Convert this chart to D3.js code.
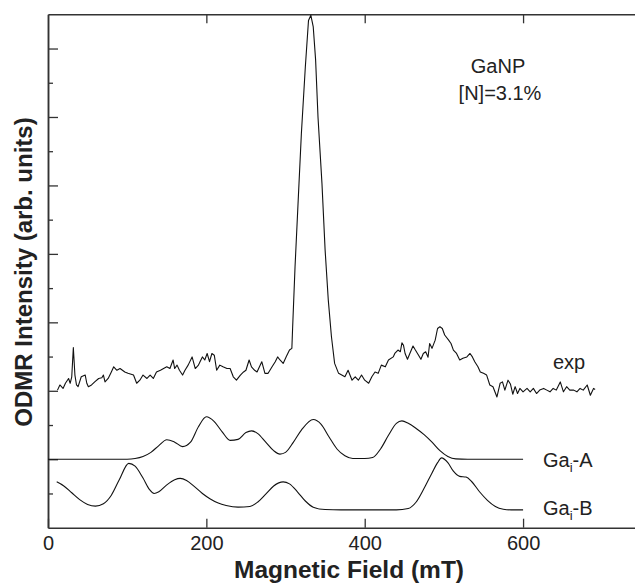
<!DOCTYPE html>
<html>
<head>
<meta charset="utf-8">
<script src="https://cdn.jsdelivr.net/npm/d3@7"></script>
<style>
  body { margin: 0; background: #fff; }
  svg text { font-family: "Liberation Sans", Arial, Helvetica, sans-serif; fill: #222; }
</style>
</head>
<body>
<svg id="chart" width="635" height="586"></svg>
<script>
// ODMR spectrum of GaNP ([N]=3.1%) with two simulated Ga interstitial spectra

// experimental trace (field in mT, intensity in tick units)
const expField = [12, 15, 19, 22, 26, 28, 30, 32, 34, 36, 38, 42, 47, 49, 51, 55, 59, 64, 68, 70,
    72, 76, 80, 83, 87, 91, 97, 101, 108, 112, 116, 120, 125, 129, 133, 137, 142, 146, 150, 154,
    158, 160, 163, 166, 170, 173, 177, 182, 186, 190, 192, 195, 198, 201, 204, 207, 210, 213, 217, 221,
    226, 230, 234, 238, 243, 247, 250, 254, 257, 261, 264, 270, 274, 278, 283, 287, 290, 293, 297, 301,
    305, 308, 309, 312, 316, 320, 325, 329, 332, 335, 338, 341, 346, 350, 354, 358, 362, 367, 371, 375,
    379, 384, 388, 392, 396, 400, 405, 409, 413, 417, 421, 426, 430, 436, 438, 442, 445, 447, 449, 451,
    454, 457, 461, 464, 468, 471, 474, 477, 480, 482, 485, 489, 492, 495, 498, 501, 506, 509, 512, 516,
    520, 524, 529, 533, 536, 539, 543, 546, 550, 554, 558, 562, 567, 571, 574, 577, 581, 584, 587, 590,
    593, 596, 600, 605, 609, 613, 617, 621, 626, 630, 634, 638, 642, 647, 651, 655, 659, 664, 668, 672,
    676, 681, 685, 689, 691];
const expSignal = [4.02, 4.17, 4.07, 4.22, 4.36, 4.22, 4.41, 5.26, 4.46, 4.17, 4.12, 4.41, 4.46, 4.22, 4.12, 4.17, 4.26, 4.36, 4.38, 4.46,
    4.26, 4.36, 4.55, 4.70, 4.60, 4.65, 4.55, 4.51, 4.46, 4.22, 4.31, 4.46, 4.36, 4.46, 4.36, 4.55, 4.60, 4.65, 4.70, 4.65,
    4.90, 4.65, 4.75, 4.60, 4.46, 4.60, 4.75, 4.99, 4.65, 4.75, 4.85, 4.99, 4.90, 5.09, 4.85, 5.09, 5.04, 4.60, 4.75, 4.70,
    4.65, 4.65, 4.41, 4.31, 4.46, 4.55, 4.60, 4.90, 4.70, 4.60, 4.55, 4.85, 4.51, 4.51, 4.70, 4.85, 4.99, 4.90, 4.80, 5.00,
    5.19, 5.24, 5.87, 7.62, 9.57, 11.51, 13.46, 14.82, 14.97, 14.63, 13.66, 12.00, 10.06, 8.11, 6.65, 5.58, 4.80, 4.51, 4.46, 4.41,
    4.60, 4.31, 4.41, 4.31, 4.46, 4.31, 4.22, 4.41, 4.55, 4.51, 4.75, 4.70, 4.90, 4.99, 5.09, 5.19, 5.14, 5.40, 5.33, 5.09,
    4.92, 5.09, 5.31, 5.19, 5.04, 4.92, 5.09, 5.14, 4.98, 5.38, 5.24, 5.48, 5.82, 5.87, 5.82, 5.63, 5.48, 5.38, 5.19, 5.09,
    4.90, 4.95, 4.99, 5.09, 4.99, 4.85, 4.70, 4.55, 4.51, 4.46, 4.17, 4.12, 3.82, 4.22, 4.26, 4.02, 4.31, 4.20, 3.90, 4.12,
    3.92, 4.07, 3.97, 4.07, 3.97, 4.07, 3.92, 4.02, 4.07, 4.02, 3.97, 4.07, 4.02, 4.26, 3.97, 4.12, 4.02, 4.02, 3.97, 4.07,
    4.02, 4.17, 3.87, 4.07, 4.04];

// simulated Ga_i-A spectrum (offset baseline at 2)
const gaAField = [0, 100, 110, 120, 130, 140, 150, 160, 170, 180, 190, 200, 210, 220, 230, 240, 250, 257, 265, 275,
    285, 293, 300, 310, 320, 335, 345, 355, 365, 375, 385, 400, 410, 420, 430, 440, 447, 455, 465, 475,
    485, 495, 505, 515, 530, 600];
const gaASignal = [2.0, 2.0, 2.02, 2.08, 2.2, 2.4, 2.57, 2.5, 2.37, 2.5, 2.95, 3.24, 3.1, 2.8, 2.55, 2.58, 2.78, 2.83, 2.75, 2.5,
    2.25, 2.15, 2.2, 2.5, 2.85, 3.16, 3.02, 2.65, 2.3, 2.1, 2.02, 2.02, 2.05, 2.3, 2.7, 3.05, 3.12, 3.05, 2.9, 2.72,
    2.5, 2.25, 2.08, 2.01, 2.0, 2.0];

// simulated Ga_i-B spectrum (offset baseline at 0.5)
const gaBField = [11, 20, 30, 40, 50, 60, 70, 80, 90, 102, 110, 120, 128, 134, 140, 150, 160, 167, 175, 185,
    195, 205, 215, 225, 240, 255, 265, 275, 285, 297, 305, 315, 325, 335, 350, 370, 440, 455, 465, 475,
    485, 492, 497, 505, 512, 520, 528, 535, 545, 555, 565, 575, 585, 600];
const gaBSignal = [1.34, 1.22, 1.02, 0.82, 0.68, 0.63, 0.7, 0.95, 1.4, 1.88, 1.8, 1.45, 1.12, 1.0, 1.05, 1.25, 1.4, 1.44, 1.38, 1.2,
    1.0, 0.84, 0.72, 0.65, 0.6, 0.62, 0.75, 0.98, 1.22, 1.34, 1.28, 1.05, 0.78, 0.6, 0.53, 0.52, 0.52, 0.56, 0.75, 1.15,
    1.6, 1.9, 2.04, 1.9, 1.65, 1.5, 1.48, 1.35, 1.05, 0.8, 0.62, 0.54, 0.52, 0.52];

const xTicks = [0, 200, 400, 600];
const yMajorTicks = [2, 4, 6, 8, 10, 12, 14];
const yMinorTicks = [1, 3, 5, 7, 9, 11, 13];

const LEFT = 48, RIGHT = 635.5, TOP = 14.3, BOTTOM = 527.7;
const FONT = 20;

const svg = d3.select('#chart');

const xScale = d3.scaleLinear().domain([0, 742]).range([LEFT, RIGHT]);
const yScale = d3.scaleLinear().domain([0, 15]).range([BOTTOM, TOP]);

function styleAxis(g) {
    g.selectAll('path.domain').attr('stroke', '#333').attr('stroke-width', 1.5);
    g.selectAll('.tick line').attr('stroke', '#333').attr('stroke-width', 1.3);
    g.selectAll('.tick text').attr('fill', '#222').style('font-size', FONT + 'px')
        .style('font-family', '"Liberation Sans", Arial, sans-serif');
}

// bottom axis with labels
svg.append('g')
    .attr('transform', `translate(0,${BOTTOM})`)
    .call(d3.axisBottom(xScale).tickValues(xTicks).tickSizeInner(-9).tickSizeOuter(0).tickPadding(8))
    .call(styleAxis);

// top axis, ticks only
svg.append('g')
    .attr('transform', `translate(0,${TOP})`)
    .call(d3.axisTop(xScale).tickValues(xTicks.slice(1)).tickSizeInner(-9).tickSizeOuter(0).tickFormat(''))
    .call(styleAxis);

// left axis: long and short inward ticks, no labels
svg.append('g')
    .attr('transform', `translate(${LEFT},0)`)
    .call(d3.axisLeft(yScale).tickValues(yMajorTicks).tickSizeInner(-10).tickSizeOuter(0).tickFormat(''))
    .call(styleAxis);
svg.append('g')
    .attr('transform', `translate(${LEFT},0)`)
    .call(d3.axisLeft(yScale).tickValues(yMinorTicks).tickSizeInner(-5).tickSizeOuter(0).tickFormat(''))
    .call(styleAxis);

// curves
const line = d3.line()
    .x(d => xScale(d[0]))
    .y(d => yScale(d[1]));
const smooth = d3.line()
    .x(d => xScale(d[0]))
    .y(d => yScale(d[1]))
    .curve(d3.curveMonotoneX);

const series = [
    { pts: d3.zip(expField, expSignal), gen: line },
    { pts: d3.zip(gaAField, gaASignal), gen: smooth },
    { pts: d3.zip(gaBField, gaBSignal), gen: smooth }
];
svg.append('g')
    .selectAll('path')
    .data(series)
    .join('path')
    .attr('d', d => d.gen(d.pts))
    .attr('fill', 'none')
    .attr('stroke', '#111')
    .attr('stroke-width', 1.1)
    .attr('stroke-linejoin', 'round');

// labels
const labels = svg.append('g').style('font-size', FONT + 'px');
labels.append('text').attr('x', 498).attr('y', 73).attr('text-anchor', 'middle').text('GaNP');
labels.append('text').attr('x', 500).attr('y', 100).attr('text-anchor', 'middle').text('[N]=3.1%');
labels.append('text').attr('x', 553).attr('y', 369).text('exp');

function gaLabel(y, suffix) {
    const t = labels.append('text').attr('x', 543).attr('y', y);
    t.append('tspan').text('Ga');
    t.append('tspan').attr('dy', 5).style('font-size', '13px').text('i');
    t.append('tspan').attr('dy', -5).text('-' + suffix);
}
gaLabel(467, 'A');
gaLabel(515, 'B');

// axis titles
svg.append('text')
    .attr('x', 349).attr('y', 578)
    .attr('text-anchor', 'middle')
    .style('font-size', '24.5px').style('font-weight', 'bold')
    .text('Magnetic Field (mT)');
svg.append('text')
    .attr('transform', 'translate(32,272) rotate(-90)')
    .attr('text-anchor', 'middle')
    .style('font-size', '24px').style('font-weight', 'bold')
    .text('ODMR Intensity (arb. units)');
</script>
</body>
</html>
